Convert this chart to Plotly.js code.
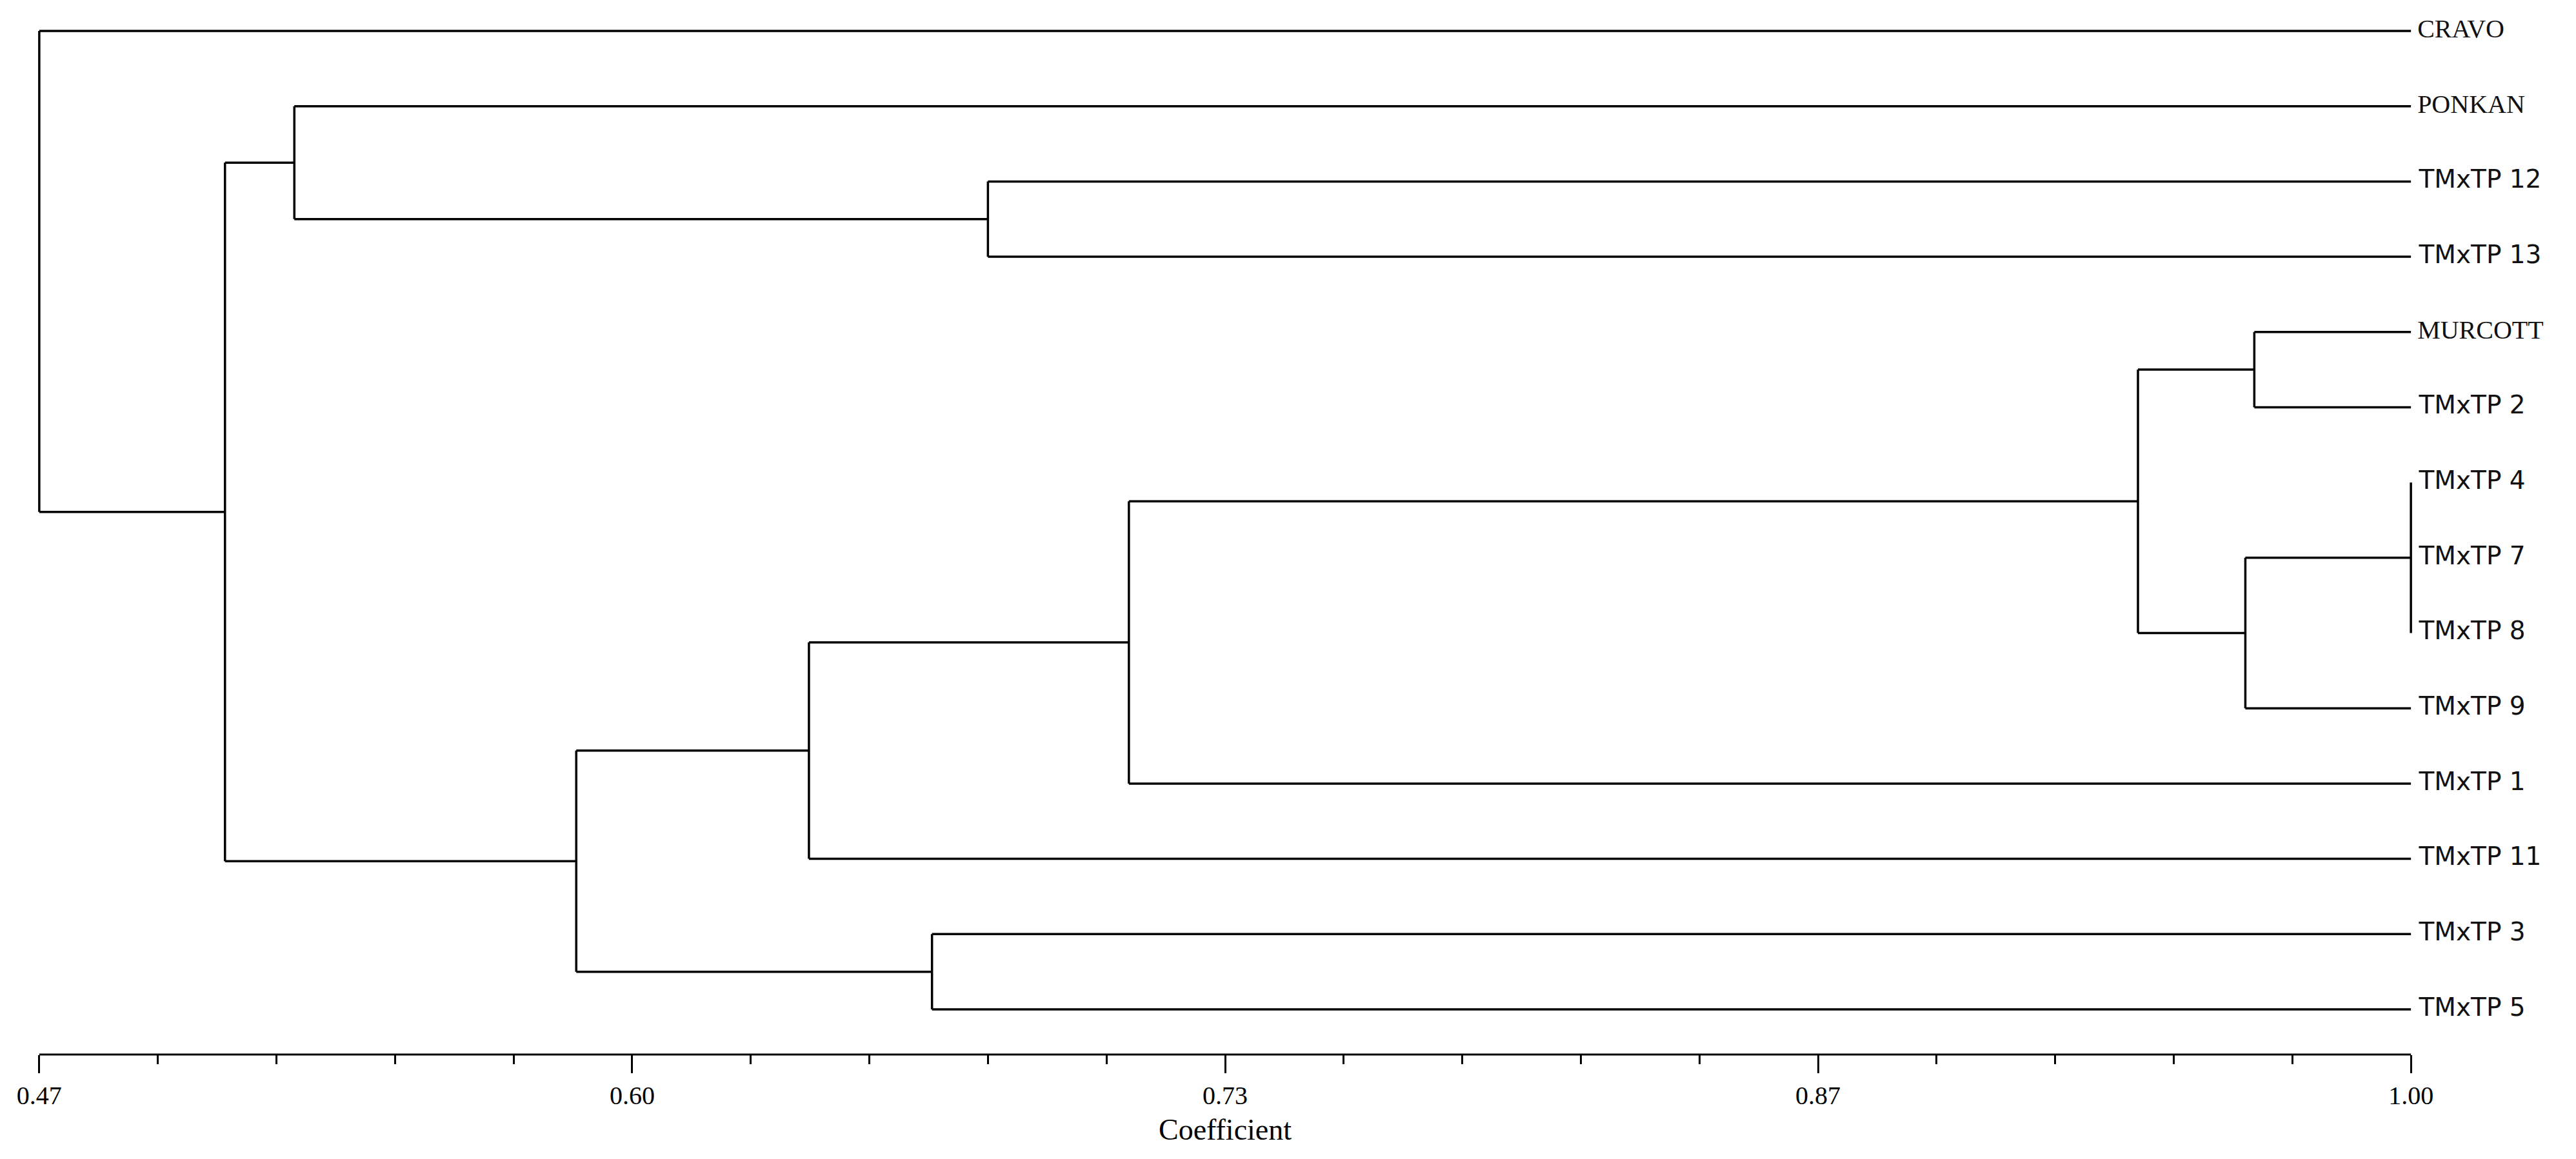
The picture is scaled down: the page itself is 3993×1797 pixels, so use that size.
<!DOCTYPE html>
<html>
<head>
<meta charset="utf-8">
<script src="https://cdn.plot.ly/plotly-3.0.1.min.js"></script>
<style>
  html, body { margin: 0; padding: 0; background: #fff; }
</style>
</head>
<body>
<div id="dendro" style="width:3993px;height:1797px;"></div>
<script>
    /*--------------------------------------------------------------------------
        +++ UPGMA dendrogram, similarity coefficient
        --------------------------------------------------------------------------*/

    // leaves, top to bottom
    var leafNames = ['CRAVO', 'PONKAN', 'TMxTP 12', 'TMxTP 13', 'MURCOTT', 'TMxTP 2',
        'TMxTP 4', 'TMxTP 7', 'TMxTP 8', 'TMxTP 9', 'TMxTP 1', 'TMxTP 11', 'TMxTP 3', 'TMxTP 5'];
    var leafCoef = 1.00;

    // merges: children (leaf index < 14, merged node = 14 + merge index) and coefficient
    var mergeChildren = [[6, 7, 8], [4, 5], [14, 9], [15, 16], [17, 10], [18, 11],
        [12, 13], [19, 20], [2, 3], [1, 22], [23, 21], [0, 24]];
    var mergeCoef = [1.00, 0.965, 0.963, 0.939, 0.7135, 0.642,
        0.6695, 0.590, 0.682, 0.527, 0.5115, 0.470];

    // axis ticks
    var tickVals = [0.47, 0.6025, 0.735, 0.8675, 1.00];
    var tickText = ['0.47', '0.60', '0.73', '0.87', '1.00'];

    //node positions
    var nodeY = [];
    var nodeX = [];
    leafNames.forEach(function (name, i) {
        nodeY.push(i);
        nodeX.push(leafCoef);
    });

    var segX = [];
    var segY = [];
    mergeChildren.forEach(function (kids, k) {
        var h = mergeCoef[k];
        var ys = kids.map(function (c) { return nodeY[c]; });
        var yMin = Math.min.apply(null, ys);
        var yMax = Math.max.apply(null, ys);
        // vertical
        segX.push(h, h, null);
        segY.push(yMin, yMax, null);
        // horizontals to each child
        kids.forEach(function (c) {
            segX.push(h, nodeX[c], null);
            segY.push(nodeY[c], nodeY[c], null);
        });
        nodeY.push((yMin + yMax) / 2);
        nodeX.push(h);
    });

    var branches = {
        x: segX,
        y: segY,
        mode: 'lines',
        line: { color: '#000', width: 3.5 },
        hoverinfo: 'skip'
    };

    var isTM = function (n) { return n.indexOf('TMxTP') === 0; };

    var labels = {
        x: leafNames.map(function () { return leafCoef; }),
        y: leafNames.map(function (n, i) { return i; }),
        mode: 'text',
        text: leafNames.map(function (n) { return '\u00a0' + n; }),
        textposition: 'middle right',
        cliponaxis: false,
        textfont: {
            size: leafNames.map(function (n) { return isTM(n) ? 39 : 40; }),
            color: '#111',
            family: leafNames.map(function (n) {
                return isTM(n) ? 'DejaVu Sans' : 'Liberation Serif';
            })
        },
        hoverinfo: 'skip'
    };

    var layout = {
        width: 3993,
        height: 1797,
        margin: { l: 47, r: 242, t: 13, b: 162 },
        showlegend: false,
        paper_bgcolor: '#fff',
        plot_bgcolor: '#fff',
        xaxis: {
            range: [0.468, 1.002],
            showgrid: false,
            zeroline: false,
            showline: false,
            ticks: 'outside',
            ticklen: 28,
            tickwidth: 3,
            tickcolor: '#000',
            tickmode: 'array',
            tickvals: tickVals,
            ticktext: tickText,
            tickfont: { family: 'Liberation Sans Narrow, Liberation Serif, serif', size: 40, color: '#000' },
            minor: { ticks: 'outside', ticklen: 14, tickwidth: 3, tickcolor: '#000', tick0: 0.47, dtick: 0.0265 },
            title: {
                text: 'Coefficient',
                font: { family: 'Liberation Serif, serif', size: 46, color: '#000' },
                standoff: 14
            }
        },
        yaxis: {
            range: [13.6, -0.3],
            visible: false
        },
        shapes: [{
            type: 'line', xref: 'x', yref: 'paper',
            x0: tickVals[0], x1: tickVals[tickVals.length - 1], y0: 0, y1: 0,
            line: { color: '#000', width: 3 }
        }]
    };

    Plotly.newPlot('dendro', [branches, labels], layout, { staticPlot: true });
</script>
</body>
</html>
